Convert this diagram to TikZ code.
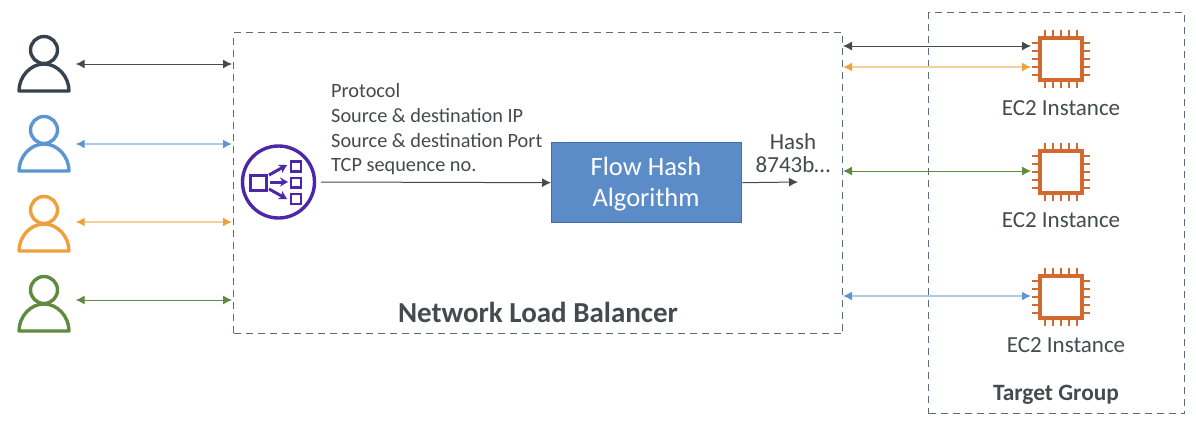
\documentclass[tikz,border=0pt]{standalone}
\usepackage{fontspec}
\setmainfont{Carlito}
\usetikzlibrary{arrows.meta}
\definecolor{dashc}{HTML}{5A6B86}
\definecolor{ink}{HTML}{444B4E}
\definecolor{darkuser}{HTML}{36424F}
\definecolor{blueu}{HTML}{5B95D2}
\definecolor{orangeu}{HTML}{EFA03A}
\definecolor{greenu}{HTML}{5F8A40}
\definecolor{chipc}{HTML}{D2692F}
\definecolor{purp}{HTML}{4D27AA}
\definecolor{flowfill}{HTML}{5B8CC8}
\definecolor{flowline}{HTML}{3F6FA5}
\tikzset{
  dashbox/.style={draw=dashc,line width=1.3,dash pattern=on 7 off 5,inner sep=0},
  lbl/.style={text=ink,inner sep=0,font=\fontsize{23}{26}\selectfont},
  biarrow/.style={{Latex[length=9,width=9,#1]}-{Latex[length=9,width=9,#1]},line width=1},
  lightarrow/.style={{Latex[length=9,width=9,#1]}-{Latex[length=9,width=9,#1]},line width=1.6,draw=#1!50},
  onearrow/.style={-{Latex[length=9,width=9]},line width=1,draw=ink},
  spot/.style={inner sep=0,minimum width=1,minimum height=1},
  pics/person/.style={code={
    \draw[#1,line width=3.4] (0,-14) circle[radius=13.5];
    \draw[#1,line width=3.4,line join=round] (-25,27) .. controls (-25,12.7) and (-13.8,0) .. (0,0) .. controls (13.8,0) and (25,12.7) .. (25,27) -- cycle;
  }},
  pics/chip/.style={code={
    \draw[chipc,line width=3.2] (-21,-21) rectangle (21,21);
    \foreach \d in {-16,-8,0,8,16}{
      \draw[chipc,line width=2.4] (\d,-21) -- (\d,-29) (\d,21) -- (\d,29) (-21,\d) -- (-29,\d) (21,\d) -- (29,\d);
    }
  }},
}
\begin{document}
\begin{tikzpicture}[x=1pt,y=-1pt]
\useasboundingbox (0,0) rectangle (1196,426);
\fill[white] (0,0) rectangle (1196,426);
% boxes
\node[dashbox,anchor=north west,minimum width=609,minimum height=301] (nlb) at (233,32) {};
\node[dashbox,anchor=north west,minimum width=256,minimum height=401] (tg) at (928,12) {};
\node[draw=flowline,line width=1.4,fill=flowfill,anchor=north west,minimum width=190,minimum height=80,inner sep=0] (flow) at (551,142) {};
\node[text=white,align=center,font=\fontsize{26.5}{31}\selectfont,inner sep=0] (flowt) at (646,184.5) {Flow Hash\\Algorithm};
% users
\pic at (44,64) {person=darkuser};
\pic at (44,144) {person=blueu};
\pic at (44,224) {person=orangeu};
\pic at (44,304) {person=greenu};
\node[spot] (u1) at (75,64) {};
\node[spot] (u2) at (75,144) {};
\node[spot] (u3) at (75,222) {};
\node[spot] (u4) at (75,300) {};
\coordinate (n1) at (232,64);
\coordinate (n2) at (232,144);
\coordinate (n3) at (232,222);
\coordinate (n4) at (232,300);
\draw[biarrow=ink,draw=ink] (u1) -- (n1);
\draw[lightarrow=blueu] (u2) -- (n2);
\draw[lightarrow=orangeu] (u3) -- (n3);
\draw[biarrow=greenu,draw=greenu] (u4) -- (n4);
% lb icon
\node[draw=purp,line width=3.4,circle,minimum size=72,inner sep=0] (icon) at (278.5,182) {};
\draw[purp,line width=3] (250.5,175.5) rectangle (266,190);
\draw[purp,line width=2.8] (291,161.5) rectangle (301,171.5) (291,178) rectangle (301,187.5) (291,194) rectangle (301,204);
\draw[purp,line width=3,-{Stealth[length=8,width=9]}] (269,175) -- (287,165);
\draw[purp,line width=3,-{Stealth[length=8,width=9]}] (270,182) -- (288,182);
\draw[purp,line width=3,-{Stealth[length=8,width=9]}] (269,189) -- (287,199);
% text
\node[lbl,anchor=west,align=left,font=\fontsize{20.3}{24.7}\selectfont] (fields) at (331,129.5) {Protocol\\Source \& destination IP\\Source \& destination Port\\TCP sequence no.};
\node[lbl,align=center,font=\fontsize{23}{23.5}\selectfont] (hash) at (793,153) {Hash\\8743b…};
\node[lbl,font=\bfseries\fontsize{29}{32}\selectfont] (nlbt) at (538,312) {Network Load Balancer};
\node[lbl,font=\bfseries\fontsize{23.4}{26}\selectfont] (tgt) at (1056,395) {Target Group};
\coordinate (ie) at (321,182);
\coordinate (h) at (798,182);
\draw[onearrow] (ie) -- (flow.west);
\draw[onearrow] (flow.east) -- (h);
% chips
\pic at (1061,59) {chip};
\pic at (1061,172) {chip};
\pic at (1061,297) {chip};
\node[lbl] (c1) at (1061,108) {EC2 Instance};
\node[lbl] (c2) at (1061,220) {EC2 Instance};
\node[lbl] (c3) at (1066,345) {EC2 Instance};
\coordinate (r1a) at (843,46); \coordinate (r1b) at (1031,46);
\coordinate (r2a) at (843,67); \coordinate (r2b) at (1031,67);
\coordinate (r3a) at (843,171); \coordinate (r3b) at (1031,171);
\coordinate (r4a) at (843,296); \coordinate (r4b) at (1031,296);
\draw[biarrow=ink,draw=ink] (r1a) -- (r1b);
\draw[lightarrow=orangeu] (r2a) -- (r2b);
\draw[biarrow=greenu,draw=greenu] (r3a) -- (r3b);
\draw[lightarrow=blueu] (r4a) -- (r4b);
\end{tikzpicture}
\end{document}
